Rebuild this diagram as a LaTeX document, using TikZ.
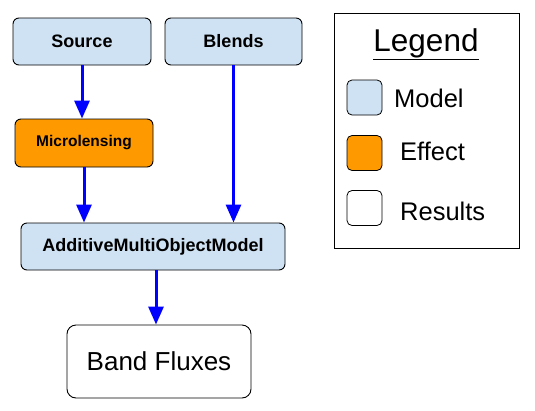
\documentclass[tikz,border=0pt]{standalone}
\usepackage{fontspec}
\setmainfont{Liberation Sans}
\usepackage{tikz}
\usetikzlibrary{arrows.meta,positioning,calc}
\definecolor{modelblue}{HTML}{CFE2F3}
\definecolor{effectorange}{HTML}{FF9900}
\tikzset{
    modelbox/.style={draw, rounded corners=6pt, fill=modelblue, align=center, font=\fontsize{18}{20}\selectfont\bfseries, line width=0.9pt, inner sep=0pt},
    effectbox/.style={draw, rounded corners=6pt, fill=effectorange, align=center, font=\fontsize{15.5}{18}\selectfont\bfseries, line width=0.9pt, inner sep=0pt},
    resultbox/.style={draw, rounded corners=9pt, fill=white, align=center, font=\fontsize{26}{28}\selectfont, line width=0.9pt, inner sep=0pt},
    flowarrow/.style={-{Triangle[length=18pt, width=15pt]}, line width=3pt, blue},
    legendswatch/.style={draw, rounded corners=5pt, minimum width=35pt, minimum height=35pt, line width=0.8pt, inner sep=0pt},
    legendtext/.style={anchor=west, font=\fontsize{25.5}{28}\selectfont, inner sep=0pt}
}
\begin{document}
\begin{tikzpicture}[x=1pt, y=-1pt]
    \useasboundingbox (0,0) rectangle (535,410);
    % flow boxes
    \node[modelbox, minimum width=138pt, minimum height=47pt] (source) at (82,41.5) {Source};
    \node[modelbox, minimum width=137pt, minimum height=47pt] (blends) at (233.5,41.5) {Blends};
    \node[effectbox, minimum width=138pt, minimum height=48pt] (micro) at (84,143) {Microlensing};
    \node[modelbox, minimum width=264pt, minimum height=47pt] (amom) at (153,246.5) {AdditiveMultiObjectModel};
    \node[resultbox, minimum width=184pt, minimum height=73pt] (band) at (159,361.5) {Band Fluxes};

    \draw[flowarrow] (source.south) -- (source.south |- micro.north);
    \draw[flowarrow] (micro.south) -- (micro.south |- amom.north);
    \draw[flowarrow] (blends.south) -- (blends.south |- amom.north);
    \draw[flowarrow] ($(amom.south)+(3,0)$) -- ($(amom.south |- band.north)+(3,0)$);

    % legend
    \node[draw, line width=0.9pt, minimum width=185pt, minimum height=235pt, inner sep=0pt] (legend) at (426.5,130.5) {};
    \node[font=\fontsize{31.5}{34}\selectfont, inner sep=0pt] (legendtitle) at (426,44) {\underline{Legend}};
    \node[legendswatch, fill=modelblue] (swmodel) at (364.5,97.5) {};
    \node[legendswatch, fill=effectorange] (sweffect) at (364.5,153) {};
    \node[legendswatch, fill=white] (swresult) at (364.5,208) {};
    \node[legendtext] (lbmodel) at (394,98) {Model};
    \node[legendtext] (lbeffect) at (400,151) {Effect};
    \node[legendtext] (lbresult) at (400,211) {Results};
\end{tikzpicture}
\end{document}
